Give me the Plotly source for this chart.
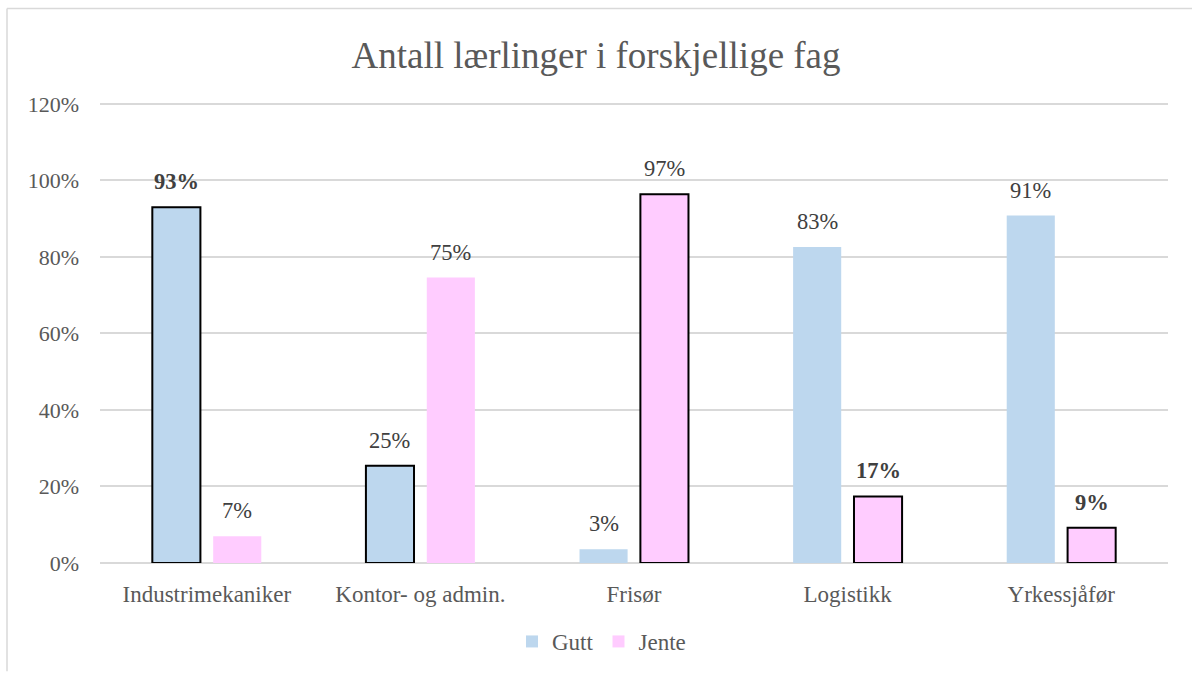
import plotly.graph_objects as go

categories = ["Industrimekaniker", "Kontor- og admin.", "Frisør", "Logistikk", "Yrkessjåfør"]
gutt = [93.0, 25.4, 3.6, 82.6, 90.8]
jente = [7.0, 74.6, 96.4, 17.4, 9.2]
gutt_labels = ["93%", "25%", "3%", "83%", "91%"]
jente_labels = ["7%", "75%", "97%", "17%", "9%"]
gutt_outlined = [True, True, False, False, False]
jente_outlined = [False, False, True, True, True]
gutt_bold = [True, False, False, False, False]
jente_bold = [False, False, False, True, True]
y_ticks = [0, 20, 40, 60, 80, 100, 120]

FONT = "Liberation Serif, Times New Roman, serif"
GREY = "#595959"
BLUE = "#BDD7EE"
PINK = "#FFCCFF"

L, R, T, B = 100, 24, 100, 109
W, H = 1192, 675
plot_w = W - L - R
plot_h = H - T - B
bargap = 0.43
cat_w = plot_w / len(categories)
offset_px = cat_w * (1 - bargap) / 4

fig = go.Figure()
fig.add_trace(go.Bar(
    name="Gutt", x=categories, y=gutt, showlegend=False, offsetgroup="g",
    marker=dict(color=BLUE,
                line=dict(color=["black" if o else BLUE for o in gutt_outlined],
                          width=[2 if o else 0 for o in gutt_outlined])),
))
fig.add_trace(go.Bar(
    name="Jente", x=categories, y=jente, showlegend=False, offsetgroup="j",
    marker=dict(color=PINK,
                line=dict(color=["black" if o else PINK for o in jente_outlined],
                          width=[2 if o else 0 for o in jente_outlined])),
))
# legend-only entries (plain swatches without outline)
for nm, col, grp in [("Gutt", BLUE, "g"), ("Jente", PINK, "j")]:
    fig.add_trace(go.Bar(name=nm, x=[None], y=[None], offsetgroup=grp,
                         marker=dict(color=col, line=dict(width=0)),
                         showlegend=True, hoverinfo="skip"))

annotations = []
for series, labels, bolds, sign in [(gutt, gutt_labels, gutt_bold, -1), (jente, jente_labels, jente_bold, 1)]:
    for c, v, lab, b in zip(categories, series, labels, bolds):
        annotations.append(dict(
            x=c, y=v, xref="x", yref="y", text=f"<b>{lab}</b>" if b else lab,
            showarrow=False, yanchor="bottom", xanchor="center",
            xshift=sign * offset_px, yshift=11,
            font=dict(family=FONT, size=22.5, color="#404040"),
        ))

fig.update_layout(
    width=W, height=H,
    margin=dict(l=L, r=R, t=T, b=B),
    paper_bgcolor="white", plot_bgcolor="white",
    barmode="group", bargap=bargap, bargroupgap=0.21,
    title=dict(text="Antall lærlinger i forskjellige fag", x=0.5, xanchor="center",
               y=1 - 55 / H, yanchor="middle",
               font=dict(family=FONT, size=37, color=GREY)),
    font=dict(family=FONT, size=22, color=GREY),
    legend=dict(orientation="h", x=(512 - L) / plot_w, xanchor="left", y=-(645 - (H - B)) / plot_h,
                yanchor="middle", font=dict(family=FONT, size=23, color=GREY),
                itemwidth=30, tracegroupgap=0),
    annotations=annotations,
    showlegend=True,
)
fig.update_yaxes(range=[0, 121], tickvals=y_ticks, ticktext=[f"{v}%" for v in y_ticks],
                 showgrid=True, gridcolor="#D9D9D9", gridwidth=1.5,
                 zeroline=True, zerolinecolor="#D9D9D9", zerolinewidth=1.5,
                 showline=False, ticks="", ticklabelstandoff=20,
                 tickfont=dict(family=FONT, size=22, color=GREY))
fig.update_xaxes(showgrid=False, showline=False, ticks="", ticklabelstandoff=15,
                 tickfont=dict(family=FONT, size=23, color=GREY))

# chart frame (left and top edges)
x_left = (7 - L) / plot_w
y_top = (H - B - 8) / plot_h
x_right = (W - L) / plot_w
y_bot = -(B) / plot_h
fig.add_shape(type="line", xref="paper", yref="paper", x0=x_left, x1=x_right, y0=y_top, y1=y_top,
              line=dict(color="#D9D9D9", width=1.5))
fig.add_shape(type="line", xref="paper", yref="paper", x0=x_left, x1=x_left, y0=y_top, y1=y_bot,
              line=dict(color="#D9D9D9", width=1.5))

fig.write_html("out.html", config={"displayModeBar": False},
               post_script="document.body.style.margin='0';")
